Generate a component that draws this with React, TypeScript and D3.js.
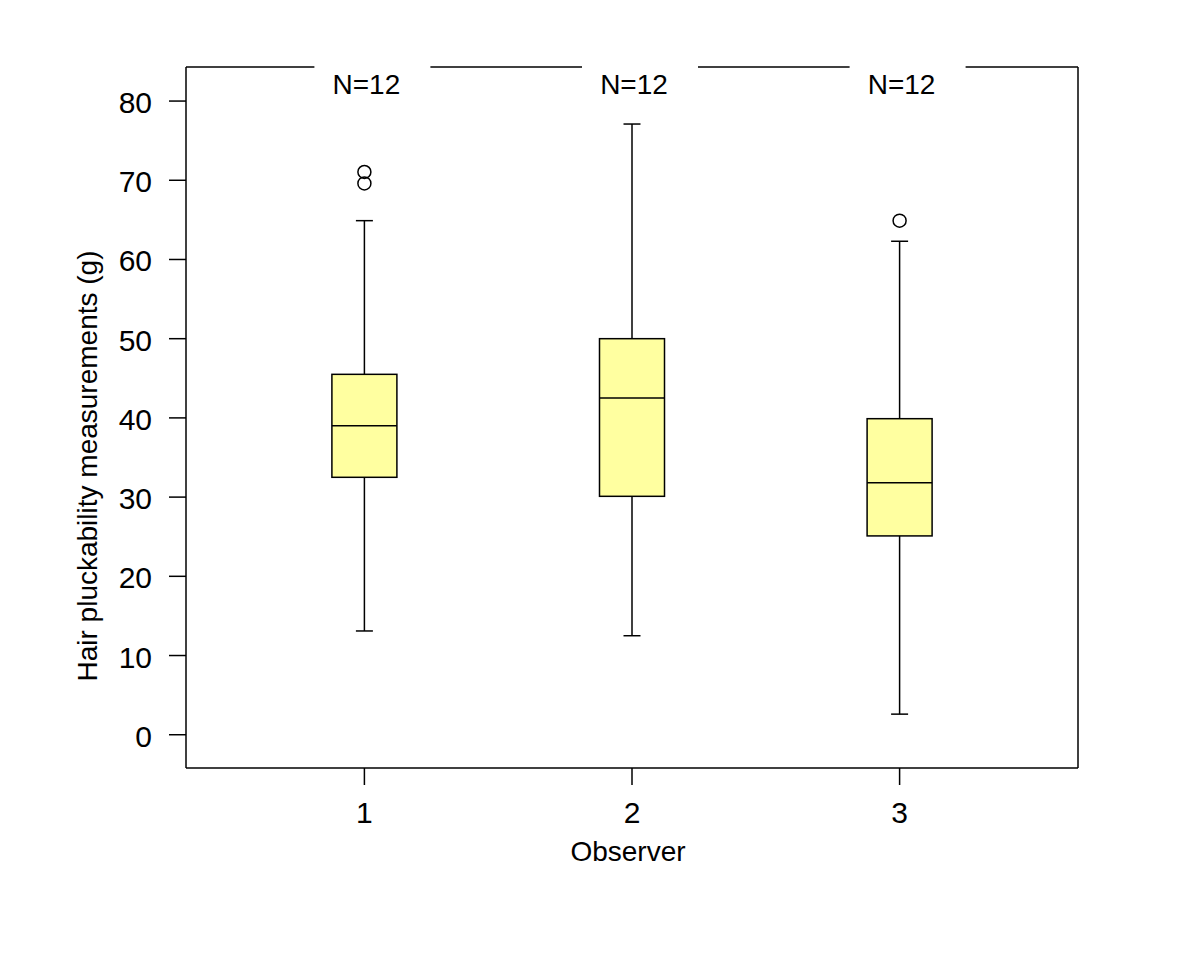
import React from "react";
import * as d3 from "d3";

const observers = ["1", "2", "3"];
const counts = [12, 12, 12];
const whiskerLow = [13.1, 12.5, 2.6];
const q1 = [32.5, 30.1, 25.1];
const medians = [39.0, 42.5, 31.8];
const q3 = [45.5, 50.0, 39.9];
const whiskerHigh = [64.9, 77.1, 62.3];
const outliers = [[71.05, 69.6], [], [64.9]];
const yTicks = [0, 10, 20, 30, 40, 50, 60, 70, 80];

const W = 1200;
const H = 956;
const left = 186;
const right = 1078;
const top = 67;
const bottom = 768;
const font = "'Liberation Sans', Arial, Helvetica, sans-serif";

export default function App() {
  const x = d3.scaleLinear().domain([1 / 3, 11 / 3]).range([left, right]);
  const y = d3.scaleLinear().domain([-4.2, 84.3]).range([bottom, top]);
  const boxW = 65;
  const capW = 17;

  // top border is broken where the N= labels sit
  const gaps = observers.map((_, i) => [x(i + 1) - 50, x(i + 1) + 66]);
  const segs: [number, number][] = [];
  let start = left;
  gaps.forEach(([a, b]) => {
    segs.push([start, a]);
    start = b;
  });
  segs.push([start, right]);

  return (
    <svg width={W} height={H} style={{ display: "block", margin: "-8px" }}>
      <rect width={W} height={H} fill="white" />
      <g stroke="black" strokeWidth={1.5} fill="none">
        <line x1={left} x2={left} y1={top} y2={bottom} />
        <line x1={right} x2={right} y1={top} y2={bottom} />
        <line x1={left} x2={right} y1={bottom} y2={bottom} />
        {segs.map(([a, b], i) => (
          <line key={i} x1={a} x2={b} y1={top} y2={top} />
        ))}
      </g>

      {yTicks.map((t) => (
        <g key={t}>
          <line x1={left - 17} x2={left} y1={y(t)} y2={y(t)} stroke="black" strokeWidth={1.5} />
          <text x={152} y={y(t) + 12} textAnchor="end" fontFamily={font} fontSize={30}>
            {t}
          </text>
        </g>
      ))}

      {observers.map((o, i) => {
        const cx = x(i + 1);
        return (
          <g key={o}>
            <line x1={cx} x2={cx} y1={bottom} y2={bottom + 17} stroke="black" strokeWidth={1.5} />
            <text x={cx} y={823} textAnchor="middle" fontFamily={font} fontSize={30}>
              {o}
            </text>
            <text x={cx + 2} y={94} textAnchor="middle" fontFamily={font} fontSize={28}>
              N={counts[i]}
            </text>
            <g stroke="black" strokeWidth={1.5}>
              <line x1={cx} x2={cx} y1={y(whiskerHigh[i])} y2={y(q3[i])} />
              <line x1={cx} x2={cx} y1={y(q1[i])} y2={y(whiskerLow[i])} />
              <line x1={cx - capW / 2} x2={cx + capW / 2} y1={y(whiskerHigh[i])} y2={y(whiskerHigh[i])} />
              <line x1={cx - capW / 2} x2={cx + capW / 2} y1={y(whiskerLow[i])} y2={y(whiskerLow[i])} />
              <rect
                x={cx - boxW / 2}
                y={y(q3[i])}
                width={boxW}
                height={y(q1[i]) - y(q3[i])}
                fill="#ffffa0"
              />
              <line x1={cx - boxW / 2} x2={cx + boxW / 2} y1={y(medians[i])} y2={y(medians[i])} />
              {outliers[i].map((v, j) => (
                <circle key={j} cx={cx} cy={y(v)} r={6.5} fill="none" />
              ))}
            </g>
          </g>
        );
      })}

      <text x={628} y={861} textAnchor="middle" fontFamily={font} fontSize={28}>
        Observer
      </text>
      <text
        transform={`translate(97, 466) rotate(-90)`}
        textAnchor="middle"
        fontFamily={font}
        fontSize={28}
      >
        Hair pluckability measurements (g)
      </text>
    </svg>
  );
}
